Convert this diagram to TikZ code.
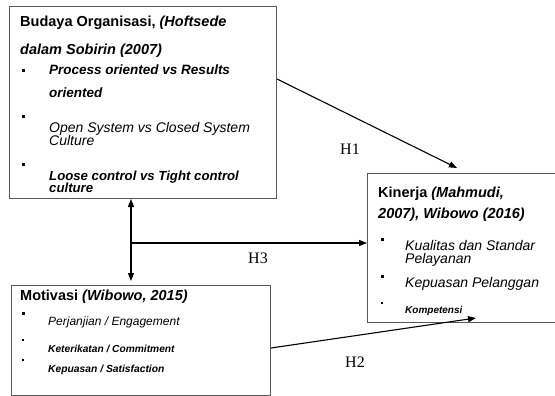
\documentclass[tikz,border=0pt]{standalone}
\usepackage{fontspec}
\setmainfont{Liberation Sans}
\newfontfamily\serifH{Liberation Serif}
\usetikzlibrary{arrows.meta,calc}
\begin{document}
\begin{tikzpicture}[x=1pt,y=-1pt,
  box/.style={draw=black!65,line width=1pt,inner sep=0pt,anchor=north west},
  txt/.style={anchor=base west,inner sep=0pt},
  ttl/.style={txt,font=\fontsize{14.5}{14.5}\selectfont\bfseries},
  itm/.style={txt,font=\fontsize{14}{14}\selectfont\itshape},
  bitm/.style={txt,font=\fontsize{#1}{#1}\selectfont\bfseries\itshape},
  bul/.style={fill=black,inner sep=0pt,minimum size=3pt},
  sbul/.style={fill=black,inner sep=0pt,minimum size=2pt},
  hl/.style={anchor=base west,inner sep=0pt,font=\serifH\fontsize{16}{16}\selectfont},
  arr/.style={line width=1.1pt,-{Triangle[length=8pt,width=6pt]}},
  darr/.style={line width=1.1pt,{Triangle[length=8pt,width=6pt]}-{Triangle[length=8pt,width=6pt]}},
]
\useasboundingbox (0,0) rectangle (555,396);
\fill[white] (0,0) rectangle (555,396);

% boxes
\node[box,minimum width=267pt,minimum height=192pt] (budaya) at (9,6) {};
\node[box,minimum width=259pt,minimum height=110pt] (motiv) at (11,285) {};
\node[box,minimum width=192pt,minimum height=149pt] (kinerja) at (367,173) {};

% Budaya texts
\node[ttl] (b1) at (20,27) {Budaya Organisasi, \textit{(Hoftsede}};
\node[ttl] (b2) at (20,55) {\textit{dalam Sobirin (2007)}};
\node[bul] (bb1) at (23.5,71) {};
\node[bul] (bb2) at (23.5,117) {};
\node[bul] (bb3) at (23.5,164) {};
\node[bitm=13.5] (b3) at (49,75) {Process oriented vs Results};
\node[bitm=13.5] (b4) at (49,98) {oriented};
\node[itm] (b5) at (49,132) {Open System vs Closed System};
\node[itm] (b6) at (49,146) {Culture};
\node[bitm=13.2] (b7) at (49,180) {Loose control vs Tight control};
\node[bitm=13.2] (b8) at (49,193) {culture};

% Motivasi texts
\node[ttl] (m1) at (20,300) {Motivasi \textit{(Wibowo, 2015)}};
\node[bul] (mb1) at (23,313) {};
\node[sbul] (mb2) at (23,340) {};
\node[sbul] (mb3) at (23,360) {};
\node[txt,font=\fontsize{12}{12}\selectfont\itshape] (m2) at (48,325) {Perjanjian / Engagement};
\node[bitm=10.2] (m3) at (48,352) {Keterikatan / Commitment};
\node[bitm=10.3] (m4) at (48,372) {Kepuasan / Satisfaction};

% Kinerja texts
\node[ttl] (k1) at (378,197) {Kinerja \textit{(Mahmudi,}};
\node[ttl] (k2) at (378,218) {\textit{2007), Wibowo (2016)}};
\node[bul] (kb1) at (382,239) {};
\node[bul] (kb2) at (382,276) {};
\node[sbul] (kb3) at (382,303) {};
\node[itm] (k3) at (405,250) {Kualitas dan Standar};
\node[itm] (k4) at (405,263) {Pelayanan};
\node[itm] (k5) at (405,287) {Kepuasan Pelanggan};
\node[bitm=10] (k6) at (405,313) {Kompetensi};

% connector ends
\coordinate (h1s) at (budaya.east |- 0,79);
\coordinate (h1e) at (457,168);
\coordinate (h2s) at (motiv.east |- 0,348);
\coordinate (h2e) at (476,318);
\coordinate (vx) at (131,243);

\draw[arr] (h1s) -- (h1e);
\draw[arr] (h2s) -- (h2e);
\draw[darr,shorten >=4pt] (budaya.south -| vx) -- (motiv.north -| vx);
\draw[arr] (vx) -- (kinerja.west |- vx);

% labels
\node[hl] (H1) at (340,154) {H1};
\node[hl] (H3) at (248,263) {H3};
\node[hl] (H2) at (345,367) {H2};
\end{tikzpicture}
\end{document}
